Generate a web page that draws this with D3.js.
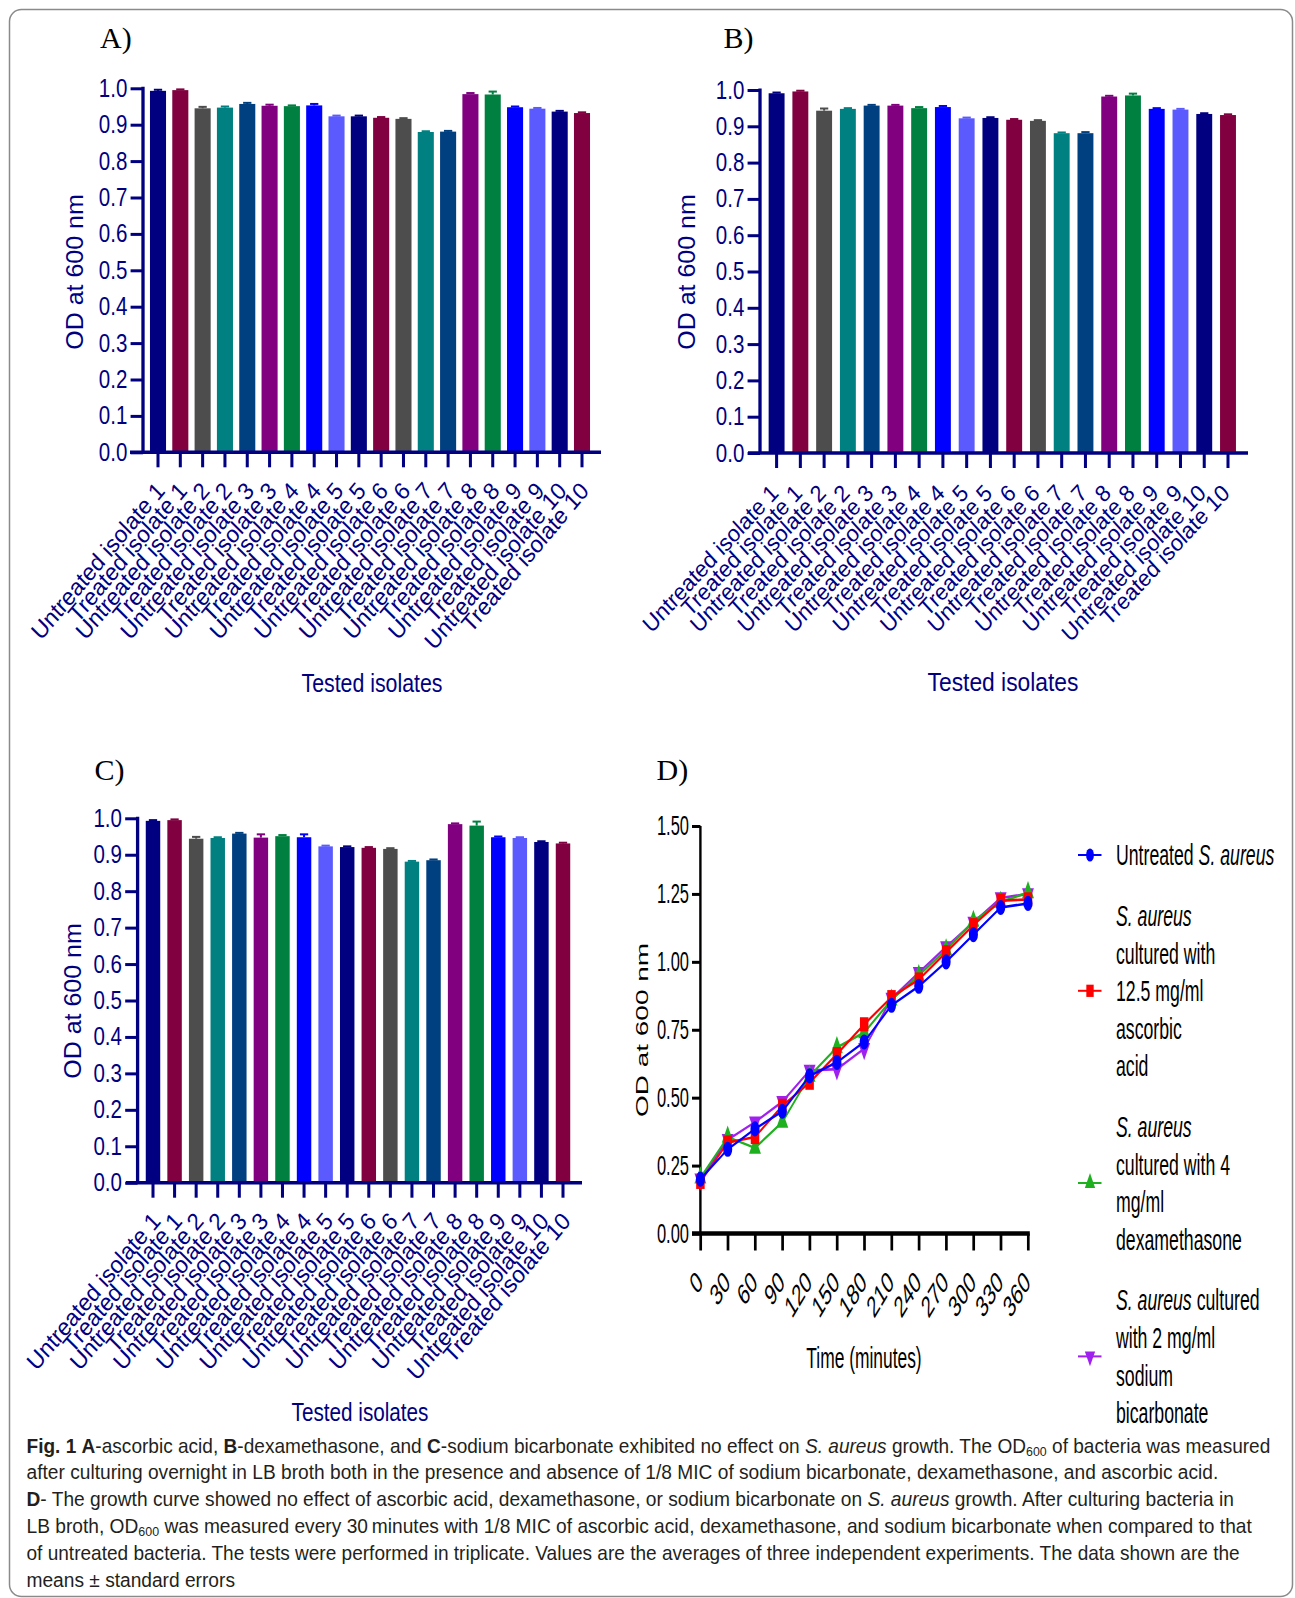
<!DOCTYPE html>
<html>
<head>
<meta charset="utf-8">
<script src="https://cdn.jsdelivr.net/npm/d3@7"></script>
<style>
  body { margin: 0; background: #fff; }
  svg { display: block; }
</style>
</head>
<body>
<svg id="fig" width="1295" height="1598"></svg>
<script>
// ---------- data ----------
const isolates = [
  "Untreated isolate 1", "Treated isolate 1", "Untreated isolate 2", "Treated isolate 2",
  "Untreated isolate 3", "Treated isolate 3", "Untreated isolate 4", "Treated isolate 4",
  "Untreated isolate 5", "Treated isolate 5", "Untreated isolate 6", "Treated isolate 6",
  "Untreated isolate 7", "Treated isolate 7", "Untreated isolate 8", "Treated isolate 8",
  "Untreated isolate 9", "Treated isolate 9", "Untreated isolate 10", "Treated isolate 10"
];
const barColors = [
  "#000080", "#800040", "#4d4d4d", "#008080", "#003f80", "#800080", "#008040", "#0000ff", "#5a5aff", "#000080",
  "#800040", "#4d4d4d", "#008080", "#003f80", "#800080", "#008040", "#0000ff", "#5a5aff", "#000080", "#800040"
];
const barTicks = [0, 0.1, 0.2, 0.3, 0.4, 0.5, 0.6, 0.7, 0.8, 0.9, 1.0];

// A - ascorbic acid
const odAscorbic = [0.993, 0.995, 0.945, 0.947, 0.957, 0.952, 0.951, 0.953, 0.923, 0.923,
                    0.919, 0.916, 0.880, 0.881, 0.984, 0.983, 0.948, 0.944, 0.936, 0.932];
const seAscorbic = [0.003, 0.002, 0.004, 0.003, 0.003, 0.003, 0.002, 0.004, 0.002, 0.002,
                    0.002, 0.002, 0.002, 0.002, 0.003, 0.008, 0.002, 0.002, 0.002, 0.002];
// B - dexamethasone
const odDexa = [0.991, 0.996, 0.943, 0.948, 0.957, 0.957, 0.950, 0.953, 0.922, 0.923,
                0.918, 0.915, 0.881, 0.881, 0.982, 0.985, 0.948, 0.946, 0.934, 0.931];
const seDexa = [0.002, 0.002, 0.006, 0.002, 0.002, 0.002, 0.003, 0.003, 0.002, 0.002,
                0.002, 0.002, 0.002, 0.003, 0.002, 0.005, 0.002, 0.002, 0.002, 0.002];
// C - sodium bicarbonate
const odBicarb = [0.993, 0.995, 0.944, 0.946, 0.958, 0.947, 0.951, 0.948, 0.923, 0.921,
                  0.919, 0.916, 0.881, 0.885, 0.984, 0.980, 0.948, 0.946, 0.935, 0.931];
const seBicarb = [0.002, 0.002, 0.005, 0.002, 0.002, 0.009, 0.003, 0.008, 0.002, 0.002,
                  0.002, 0.002, 0.002, 0.002, 0.002, 0.011, 0.002, 0.002, 0.002, 0.002];

// D - growth curve
const times = [0, 30, 60, 90, 120, 150, 180, 210, 240, 270, 300, 330, 360];
const growthTicks = [0, 0.25, 0.5, 0.75, 1.0, 1.25, 1.5];
const growthUntreated = [0.200, 0.310, 0.385, 0.450, 0.580, 0.630, 0.705, 0.840, 0.910, 1.000, 1.100, 1.200, 1.215];
const growthAscorbic  = [0.190, 0.335, 0.355, 0.470, 0.555, 0.660, 0.770, 0.870, 0.935, 1.035, 1.135, 1.225, 1.230];
const growthDexa      = [0.205, 0.355, 0.315, 0.410, 0.580, 0.685, 0.740, 0.860, 0.950, 1.045, 1.150, 1.220, 1.255];
const growthBicarb    = [0.200, 0.345, 0.410, 0.485, 0.600, 0.605, 0.680, 0.865, 0.960, 1.055, 1.145, 1.235, 1.250];

// legend text, one array of lines per series; each line is a list of [text, italic]
const legendUntreated = [[["Untreated ", false], ["S. aureus", true]]];
const legendAscorbic = [[["S. aureus", true]], [["cultured with", false]], [["12.5 mg/ml", false]], [["ascorbic", false]], [["acid", false]]];
const legendDexa = [[["S. aureus", true]], [["cultured with 4", false]], [["mg/ml", false]], [["dexamethasone", false]]];
const legendBicarb = [[["S. aureus", true], [" cultured", false]], [["with 2 mg/ml", false]], [["sodium", false]], [["bicarbonate", false]]];

// caption, each line a list of [text, style]
const captionLines = [
  [["Fig. 1", "b"], ["  ", ""], ["A", "b"], ["-ascorbic acid, ", ""], ["B", "b"], ["-dexamethasone, and ", ""], ["C", "b"],
   ["-sodium bicarbonate exhibited no effect on ", ""], ["S. aureus", "i"], [" growth. The OD", ""], ["600", "sub"], [" of bacteria was measured", ""]],
  [["after culturing overnight in LB broth both in the presence and absence of 1/8 MIC of sodium bicarbonate, dexamethasone, and ascorbic acid.", ""]],
  [["D", "b"], ["- The growth curve showed no effect of ascorbic acid, dexamethasone, or sodium bicarbonate on ", ""], ["S. aureus", "i"],
   [" growth. After culturing bacteria in", ""]],
  [["LB broth, OD", ""], ["600", "sub"], [" was measured every 30\u2009minutes with 1/8 MIC of ascorbic acid, dexamethasone, and sodium bicarbonate when compared to that", ""]],
  [["of untreated bacteria. The tests were performed in triplicate. Values are the averages of three independent experiments. The data shown are the", ""]],
  [["means \u00b1 standard errors", ""]]
];

// ---------- styles ----------
const NAVY = "#000080";
const SANS = "'Liberation Sans', Arial, sans-serif";
const SERIF = "'Liberation Serif', 'Times New Roman', serif";
const CAPFONT = "'Liberation Sans Narrow', 'Arial Narrow', 'Liberation Sans', sans-serif";

const svg = d3.select("#fig");

// horizontal scale factor that brings a text element to a given width
function fitScale(textSel, width) {
  const w = textSel.node().getComputedTextLength();
  return w > 0 ? width / w : 1;
}

// outer frame
svg.append("rect")
  .attr("x", 9.5).attr("y", 9.5).attr("width", 1283).attr("height", 1587)
  .attr("rx", 12).attr("ry", 12)
  .attr("fill", "none").attr("stroke", "#8a8a8a").attr("stroke-width", 1.5);

// ---------- bar panels ----------
function barPanel(p) {
  const sx = 0.92;                      // panel is drawn slightly condensed horizontally
  const ix = X => (X - p.ox) / sx;
  const g = svg.append("g").attr("transform", `translate(${p.ox},0) scale(${sx},1)`);

  const y = d3.scaleLinear().domain([0, 1]).range([p.yBase, p.yTop]);
  const step = (ix(p.cLast) - ix(p.cFirst)) / (isolates.length - 1);
  const x = d3.scaleBand().domain(isolates)
    .range([ix(p.cFirst) - step / 2, ix(p.cLast) + step / 2])
    .paddingInner(p.gap).paddingOuter(p.gap / 2);

  // error bars (upper half, the lower half is hidden by the bar)
  const eb = g.append("g");
  isolates.forEach((name, i) => {
    const cx = x(name) + x.bandwidth() / 2;
    const v = p.values[i], e = p.errs[i];
    eb.append("line").attr("x1", cx).attr("x2", cx).attr("y1", y(v)).attr("y2", y(v + e))
      .attr("stroke", barColors[i]).attr("stroke-width", 2.2);
    eb.append("line").attr("x1", cx - 4.5).attr("x2", cx + 4.5).attr("y1", y(v + e)).attr("y2", y(v + e))
      .attr("stroke", barColors[i]).attr("stroke-width", 2);
  });

  g.append("g").selectAll("rect").data(p.values).join("rect")
    .attr("x", (d, i) => x(isolates[i]))
    .attr("width", x.bandwidth())
    .attr("y", d => y(d))
    .attr("height", d => y(0) - y(d))
    .attr("fill", (d, i) => barColors[i]);

  // y axis
  const ya = g.append("g").attr("transform", `translate(${ix(p.axisX)},0)`)
    .call(d3.axisLeft(y).tickValues(barTicks).tickFormat(d3.format(".1f")).tickSize(13.5).tickPadding(3.5));
  ya.select(".domain").remove();
  ya.selectAll(".tick line").attr("stroke", NAVY).attr("stroke-width", 3);
  ya.selectAll(".tick text").attr("fill", NAVY).attr("font-size", 25).attr("font-family", SANS)
    .attr("textLength", 31).attr("lengthAdjust", "spacingAndGlyphs");

  // x axis ticks
  const xa = g.append("g").attr("transform", `translate(0,${p.yBase})`)
    .call(d3.axisBottom(x).tickSize(15).tickFormat(""));
  xa.select(".domain").remove();
  xa.selectAll(".tick line").attr("stroke", NAVY).attr("stroke-width", 3.3);

  // axis lines
  g.append("line").attr("x1", ix(p.axisX)).attr("x2", ix(p.axisX))
    .attr("y1", p.yTop - 1.5).attr("y2", p.yBase)
    .attr("stroke", NAVY).attr("stroke-width", 3.6);
  g.append("line").attr("x1", ix(p.xStart)).attr("x2", ix(p.xEnd))
    .attr("y1", p.yBase).attr("y2", p.yBase)
    .attr("stroke", NAVY).attr("stroke-width", 3.4);

  // category labels
  g.append("g").selectAll("text").data(isolates).join("text")
    .attr("transform", d => `translate(${x(d) + x.bandwidth() / 2 + p.labDx},${p.yBase + p.labDy}) rotate(${p.labRot})`)
    .attr("text-anchor", "end")
    .attr("font-family", SANS).attr("font-size", p.labSize).attr("fill", NAVY)
    .text(d => d);

  // axis titles
  g.append("text")
    .attr("transform", `translate(${ix(p.ylabX)},${p.ylabY}) rotate(-90)`)
    .attr("text-anchor", "middle")
    .attr("font-family", SANS).attr("font-size", 25).attr("fill", NAVY)
    .text("OD at 600 nm");
  const tg = g.append("g");
  const tt = tg.append("text").attr("x", 0).attr("y", 0)
    .attr("text-anchor", "middle")
    .attr("font-family", SANS).attr("font-size", 26.5).attr("fill", NAVY)
    .text("Tested isolates");
  tg.attr("transform", `translate(${ix(p.titleX)},${p.titleY}) scale(${fitScale(tt, p.titleW / sx)},1)`);

  // panel letter
  svg.append("text").attr("x", p.lx).attr("y", p.ly)
    .attr("font-family", SERIF).attr("font-size", 30).attr("fill", "#000")
    .text(p.letter);
}

barPanel({ letter: "A)", lx: 100, ly: 48, ox: 0, values: odAscorbic, errs: seAscorbic,
  axisX: 143, yTop: 88.3, yBase: 452.3, cFirst: 158, cLast: 582, gap: 0.28, xStart: 130, xEnd: 601,
  labDx: 8.8, labDy: 39.5, labRot: -47.7, labSize: 24.1,
  ylabX: 83, ylabY: 272, titleX: 372, titleY: 692, titleW: 141 });
barPanel({ letter: "B)", lx: 723.5, ly: 48, ox: 640, values: odDexa, errs: seDexa,
  axisX: 760, yTop: 90, yBase: 453, cFirst: 776.6, cLast: 1228, gap: 0.33, xStart: 748, xEnd: 1248,
  labDx: 3.3, labDy: 41.5, labRot: -45, labSize: 23.5,
  ylabX: 695, ylabY: 272, titleX: 1003, titleY: 691, titleW: 151 });
barPanel({ letter: "C)", lx: 94.5, ly: 780, ox: 0, values: odBicarb, errs: seBicarb,
  axisX: 137.6, yTop: 818.3, yBase: 1182.7, cFirst: 153, cLast: 563, gap: 0.33, xStart: 126, xEnd: 582,
  labDx: 9.5, labDy: 39.5, labRot: -47.7, labSize: 24.1,
  ylabX: 81, ylabY: 1001, titleX: 360, titleY: 1421, titleW: 137 });

// ---------- growth curve panel ----------
(function growthPanel() {
  const SXD = 0.6, OXD = 620;           // strongly condensed panel
  const ix = X => (X - OXD) / SXD;
  const g = svg.append("g").attr("transform", `translate(${OXD},0) scale(${SXD},1)`);

  const x = d3.scaleLinear().domain([0, 360]).range([ix(700.4), ix(1028)]);
  const y = d3.scaleLinear().domain([0, 1.5]).range([1233.5, 826]);

  const series = [
    { values: growthUntreated, color: "#0000ff", type: d3.symbolCircle, size: 180, rot: 0, legend: legendUntreated },
    { values: growthAscorbic, color: "#ff0000", type: d3.symbolSquare, size: 200, rot: 0, legend: legendAscorbic },
    { values: growthDexa, color: "#1fb01f", type: d3.symbolTriangle, size: 170, rot: 0, legend: legendDexa },
    { values: growthBicarb, color: "#a020f0", type: d3.symbolTriangle, size: 170, rot: 180, legend: legendBicarb }
  ];

  // y axis
  const ya = g.append("g").attr("transform", `translate(${x(0)},0)`)
    .call(d3.axisLeft(y).tickValues(growthTicks).tickFormat(d3.format(".2f")).tickSize(14).tickPadding(5));
  ya.select(".domain").remove();
  ya.selectAll(".tick line").attr("stroke", "#000").attr("stroke-width", 3);
  ya.selectAll(".tick text").attr("fill", "#000").attr("font-size", 27.5).attr("font-family", SANS);

  // x axis
  const xa = g.append("g").attr("transform", `translate(0,${y(0)})`)
    .call(d3.axisBottom(x).tickValues(times).tickSize(17).tickFormat(""));
  xa.select(".domain").remove();
  xa.selectAll(".tick line").attr("stroke", "#000").attr("stroke-width", 4.5);

  g.append("line").attr("x1", x(0)).attr("x2", x(0)).attr("y1", y(1.5)).attr("y2", y(0))
    .attr("stroke", "#000").attr("stroke-width", 4);
  g.append("line").attr("x1", x(0) - 14).attr("x2", x(360) + 3).attr("y1", y(0)).attr("y2", y(0))
    .attr("stroke", "#000").attr("stroke-width", 4.4);

  g.append("g").selectAll("text").data(times).join("text")
    .attr("transform", t => `translate(${x(t) + 6},1284) rotate(-45)`)
    .attr("text-anchor", "end")
    .attr("font-family", SANS).attr("font-size", 30).attr("fill", "#000")
    .text(t => t);

  g.append("text").attr("x", ix(864)).attr("y", 1368).attr("text-anchor", "middle")
    .attr("font-family", SANS).attr("font-size", 29).attr("fill", "#000")
    .text("Time (minutes)");
  g.append("text").attr("transform", `translate(${ix(648)},1030) rotate(-90)`)
    .attr("text-anchor", "middle")
    .attr("font-family", SANS).attr("font-size", 28).attr("fill", "#000")
    .text("OD at 600 nm");

  const line = d3.line().x((d, i) => x(times[i])).y(d => y(d));
  const marker = s => d3.symbol().type(s.type).size(s.size)();

  // draw last series first so the untreated curve sits on top
  series.slice().reverse().forEach(s => {
    g.append("path").datum(s.values).attr("d", line)
      .attr("fill", "none").attr("stroke", s.color).attr("stroke-width", 2.6);
    g.append("g").selectAll("path").data(s.values).join("path")
      .attr("d", marker(s))
      .attr("transform", (d, i) => `translate(${x(times[i])},${y(d)}) rotate(${s.rot})`)
      .attr("fill", s.color);
  });

  // legend
  const lineH = 37.6, entryGap = 60.6;
  let ly = 855;
  series.forEach(s => {
    const n = s.legend.length;
    const my = ly + (n - 1) / 2 * lineH;
    g.append("line").attr("x1", ix(1078)).attr("x2", ix(1101.5)).attr("y1", my).attr("y2", my)
      .attr("stroke", s.color).attr("stroke-width", 2);
    g.append("path").attr("d", d3.symbol().type(s.type).size(s.size * 0.75)())
      .attr("transform", `translate(${ix(1090)},${my}) rotate(${s.rot})`)
      .attr("fill", s.color);
    s.legend.forEach((parts, k) => {
      const t = g.append("text").attr("x", ix(1116)).attr("y", ly + k * lineH + 10.5)
        .attr("font-family", SANS).attr("font-size", 29.5).attr("fill", "#000");
      parts.forEach(([txt, it]) => {
        t.append("tspan").attr("font-style", it ? "italic" : "normal").text(txt);
      });
    });
    ly += (n - 1) * lineH + entryGap;
  });

  svg.append("text").attr("x", 656.6).attr("y", 780)
    .attr("font-family", SERIF).attr("font-size", 30).attr("fill", "#000")
    .text("D)");
})();

// ---------- caption ----------
const capStart = 26.5;
const capEnds = [1271, 1219, 1235, 1253, 1241, 235];
captionLines.forEach((parts, i) => {
  const cg = svg.append("g");
  const t = cg.append("text").attr("x", 0).attr("y", 0)
    .attr("font-family", CAPFONT).attr("font-size", 20).attr("fill", "#231f20");
  parts.forEach(([txt, st]) => {
    const ts = t.append("tspan").text(txt);
    if (st === "b") ts.attr("font-weight", "bold");
    if (st === "i") ts.attr("font-style", "italic");
    if (st === "sub") ts.attr("baseline-shift", "-25%").attr("font-size", 13);
  });
  cg.attr("transform", `translate(${capStart},${1452.5 + i * 26.8}) scale(${fitScale(t, capEnds[i] - capStart)},1)`);
});
</script>
</body>
</html>
